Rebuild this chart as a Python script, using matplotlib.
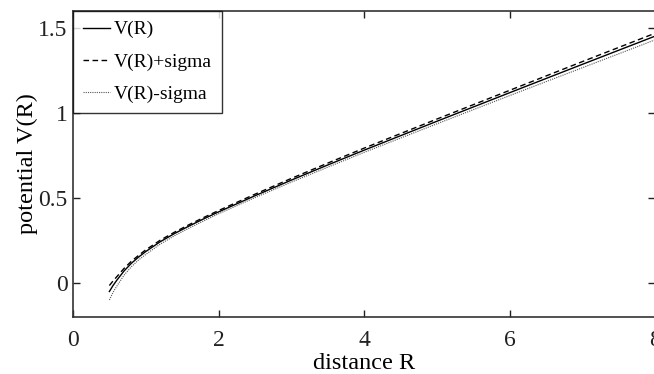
import matplotlib
matplotlib.use("Agg")
import matplotlib.pyplot as plt

R = [0.5, 0.55, 0.6, 0.7, 0.8, 0.9, 1.0, 1.2, 1.4, 1.6, 1.8, 2.0, 2.5, 3.0, 3.5, 4.0, 5.0, 6.0, 7.0, 8.0]
V = [-0.05, -0.015, 0.015, 0.07, 0.115, 0.152, 0.185, 0.243, 0.292, 0.336, 0.378, 0.418, 0.513, 0.605, 0.694, 0.781, 0.951, 1.119, 1.286, 1.452]
V_plus = [-0.015, 0.012, 0.036, 0.085, 0.127, 0.162, 0.195, 0.252, 0.300, 0.344, 0.386, 0.426, 0.522, 0.615, 0.705, 0.793, 0.964, 1.133, 1.302, 1.469]
V_minus = [-0.10, -0.055, -0.02, 0.045, 0.095, 0.135, 0.168, 0.229, 0.279, 0.324, 0.366, 0.407, 0.502, 0.593, 0.681, 0.768, 0.936, 1.102, 1.266, 1.430]

xticks = [0, 2, 4, 6, 8]
yticks = [0, 0.5, 1, 1.5]
ytick_labels = ["0", "0.5", "1", "1.5"]

plt.rcParams['font.family'] = ['Liberation Serif', 'DejaVu Serif']

fig = plt.figure(figsize=(6.54, 3.74), dpi=100)
ax = fig.add_axes([73/654, 57/374, 582/654, 306/374])

ax.plot(R, V, color='black', lw=1.0, label='V(R)')
ax.plot(R, V_plus, color='black', lw=1.0, ls=(0, (4, 2.5)), label='V(R)+sigma')
ax.plot(R, V_minus, color='#555555', lw=0.8, ls=(0, (1, 1)), label='V(R)-sigma')

ax.set_xlim(0, 8)
ax.set_ylim(-0.2, 1.6)
ax.set_xticks(xticks)
ax.set_xticklabels([str(t) for t in xticks])
ax.set_yticks(yticks)
ax.set_yticklabels(ytick_labels)
ax.tick_params(direction='in', length=5, width=1, top=True, right=True, labelsize=17, colors='#222222')
ax.tick_params(axis='x', pad=9)
ax.tick_params(axis='y', pad=4)
for s in ax.spines.values():
    s.set_color('#333333')
    s.set_linewidth(1.2)

ax.set_xlabel('distance R', fontsize=17.5, labelpad=2)
ax.set_ylabel('potential V(R)', fontsize=17.5, labelpad=0)

leg = ax.legend(loc='upper left', bbox_to_anchor=(0, 1), borderaxespad=0, fontsize=14,
                frameon=True, fancybox=False, handlelength=1.4, handletextpad=0.2,
                labelspacing=0.75, borderpad=0.5)
leg.get_frame().set_edgecolor('black')
leg.get_frame().set_linewidth(1.0)

fig.savefig('out.png', dpi=100)
